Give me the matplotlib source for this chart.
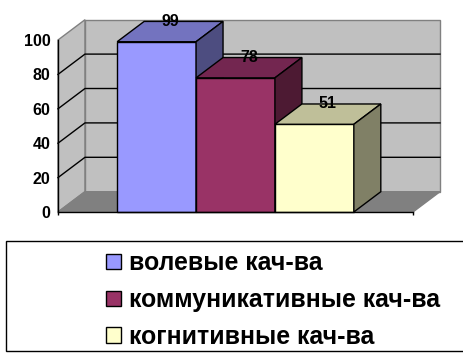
import matplotlib
matplotlib.use("Agg")
import matplotlib.pyplot as plt
from matplotlib.patches import Patch, Rectangle

categories = ["волевые кач-ва", "коммуникативные кач-ва", "когнитивные кач-ва"]
values = [99, 78, 51]
yticks = [0, 20, 40, 60, 80, 100]

front_colors = ["#9999ff", "#993366", "#ffffcc"]
top_colors = ["#7373bf", "#732650", "#bfbf99"]
side_colors = ["#4d4d80", "#4d1a33", "#808066"]

W, H = 463, 363
plt.rcParams["font.family"] = ["Liberation Sans", "DejaVu Sans"]
plt.rcParams["font.weight"] = "bold"

fig = plt.figure(figsize=(W / 100, H / 100), dpi=100)
# front plane of the fake 3d box
ax = fig.add_axes([58 / W, 1 - 212 / H, 355 / W, 172 / H])
ax.set_xlim(0, 4.5)
ax.set_ylim(0, 100)
ax.patch.set_visible(False)

# depth of the box in data units
dx = 0.342
dy = 11.8
lw = 1.0

# walls and floor
ax.fill([0, dx, dx, 0], [0, dy, 100 + dy, 100], fc="#c0c0c0", ec="#808080", lw=lw, zorder=1, clip_on=False)
ax.fill([dx, 4.5 + dx, 4.5 + dx, dx], [dy, dy, 100 + dy, 100 + dy], fc="#c0c0c0", ec="#808080", lw=lw, zorder=1, clip_on=False)
ax.fill([0, 4.5, 4.5 + dx, dx], [0, 0, dy, dy], fc="#808080", ec="#808080", lw=lw, zorder=1, clip_on=False)

# gridlines, along side wall then back wall
for t in yticks[1:-1]:
    ax.plot([0, dx, 4.5 + dx], [t, t + dy, t + dy], color="black", lw=lw, zorder=1.5, clip_on=False)

# bars, left to right so each one covers the side of the last
for i, v in enumerate(values):
    x0 = 0.75 + i
    x1 = x0 + 1
    ax.fill([x0, x1, x1, x0], [0, 0, v, v], fc=front_colors[i], ec="black", lw=lw, zorder=3, clip_on=False)
    ax.fill([x0, x1, x1 + dx, x0 + dx], [v, v, v + dy, v + dy], fc=top_colors[i], ec="black", lw=lw, zorder=3, clip_on=False)
    ax.fill([x1, x1 + dx, x1 + dx, x1], [0, dy, v + dy, v], fc=side_colors[i], ec="black", lw=lw, zorder=3, clip_on=False)
    ax.text((x0 + x1 + dx) / 2, v + dy, str(v), ha="center", va="center", fontsize=11.5, zorder=5)

for s in ["top", "right"]:
    ax.spines[s].set_visible(False)
for s in ["left", "bottom"]:
    ax.spines[s].set_linewidth(lw)
    ax.spines[s].set_zorder(4)
ax.set_yticks(yticks)
ax.tick_params(axis="y", length=0, pad=5.5, labelsize=11.5)
ax.set_xticks([0, 4.5])
ax.set_xticklabels([])
ax.tick_params(axis="x", length=2, width=lw)

# legend box runs off the right edge
fig.patches.append(Rectangle((5.5 / W, 1 - 351 / H), 470 / W, 110.5 / H, transform=fig.transFigure,
                             fc="white", ec="black", lw=lw, clip_on=False))
handles = [Patch(fc=c, ec="black", lw=lw) for c in front_colors]
fig.legend(handles, categories, loc="upper left", bbox_to_anchor=(106 / W, 1 - 251 / H), frameon=False,
           fontsize=17.9, handlelength=0.6, handleheight=0.56, handletextpad=0.32, labelspacing=0.52,
           borderpad=0, borderaxespad=0)

fig.savefig("out.png", dpi=100)
